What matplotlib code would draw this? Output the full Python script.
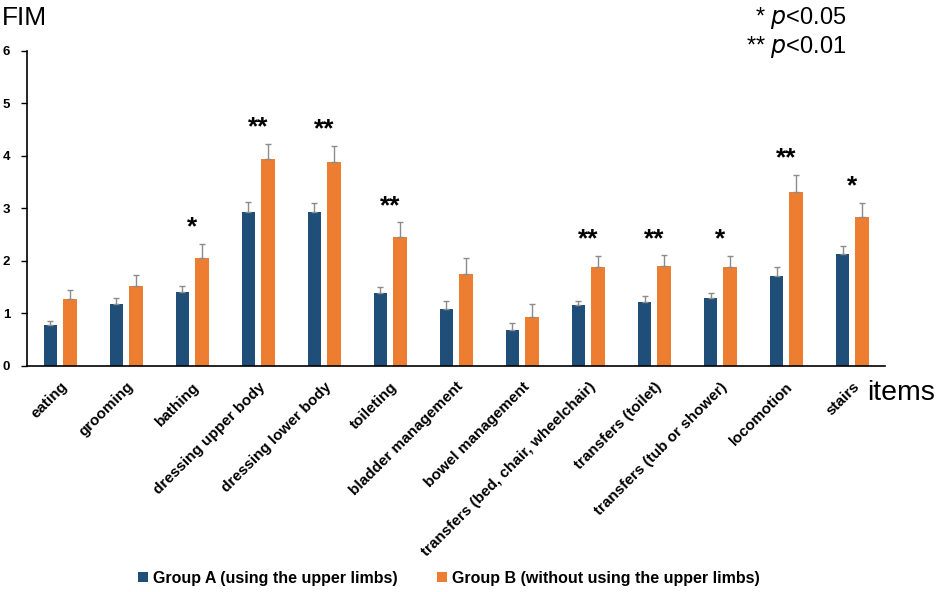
import numpy as np
import matplotlib
matplotlib.use("Agg")
import matplotlib.pyplot as plt

# data
items = ["eating", "grooming", "bathing", "dressing upper body", "dressing lower body",
         "toileting", "bladder management", "bowel management",
         "transfers (bed, chair, wheelchair)", "transfers (toilet)",
         "transfers (tub or shower)", "locomotion", "stairs"]
group_a = [0.77, 1.17, 1.40, 2.94, 2.93, 1.38, 1.09, 0.69, 1.15, 1.22, 1.29, 1.72, 2.13]
group_a_err = [0.09, 0.12, 0.13, 0.18, 0.17, 0.13, 0.15, 0.13, 0.09, 0.11, 0.09, 0.17, 0.16]
group_b = [1.28, 1.53, 2.05, 3.95, 3.89, 2.46, 1.75, 0.94, 1.89, 1.91, 1.88, 3.31, 2.84]
group_b_err = [0.17, 0.20, 0.28, 0.28, 0.30, 0.28, 0.31, 0.23, 0.21, 0.20, 0.22, 0.33, 0.27]
signif = ["", "", "*", "**", "**", "**", "", "", "**", "**", "*", "**", "*"]

plt.rcParams["font.family"] = ["Liberation Sans", "DejaVu Sans"]

blue = "#1F4E79"
orange = "#ED7D31"

fig = plt.figure(figsize=(9.45, 5.92), dpi=100)
ax = fig.add_axes([0.0286, 0.382, 0.908, 0.532])

x = np.arange(len(items))
w = 0.21
off = 0.145
err_style = dict(ecolor="#8c8c8c", elinewidth=1, capsize=2, capthick=1)
ax.bar(x - off, group_a, w, color=blue,
       yerr=[np.zeros(len(items)), group_a_err], error_kw=err_style,
       label="Group A (using the upper limbs)")
ax.bar(x + off, group_b, w, color=orange,
       yerr=[np.zeros(len(items)), group_b_err], error_kw=err_style,
       label="Group B (without using the upper limbs)")

# significance stars above each pair
for i, s in enumerate(signif):
    if s:
        top = group_b[i] + group_b_err[i]
        ax.text(x[i], top + 0.08, s, ha="center", va="bottom",
                fontsize=19, fontweight="bold", color="black")

ax.set_xlim(-0.5, len(items) - 0.5)
ax.set_ylim(0, 6)
ax.set_yticks(range(7))
ax.set_yticklabels([str(v) for v in range(7)], fontweight="bold", fontsize=9.5)
ax.tick_params(axis="y", length=4, width=1, pad=8)
ax.tick_params(axis="x", length=0, pad=10)
ax.set_xticks(x)
ax.set_xticklabels(items, rotation=45, ha="right", rotation_mode="anchor",
                   fontsize=11, fontweight="bold")
for sp in ["top", "right"]:
    ax.spines[sp].set_visible(False)
ax.spines["left"].set_linewidth(1.2)
ax.spines["bottom"].set_linewidth(1.2)

fig.text(0.002, 0.99, "FIM", fontsize=19, va="top", ha="left")
fig.text(0.918, 0.336, "items", fontsize=20.5, ha="left", va="center")
fig.text(0.896, 0.992, r"* $\it{p}$<0.05", fontsize=17, ha="right", va="top")
fig.text(0.896, 0.942, r"** $\it{p}$<0.01", fontsize=17, ha="right", va="top")

fig.legend(loc="center", bbox_to_anchor=(0.475, 0.023), ncol=2, frameon=False,
           handlelength=0.6, handleheight=0.6, handletextpad=0.3, columnspacing=2.5,
           prop={"weight": "bold", "size": 11.5})

fig.savefig("out.png", dpi=100)
